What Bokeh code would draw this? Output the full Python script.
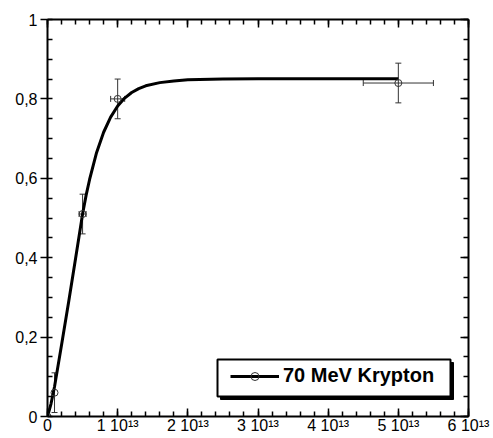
import numpy as np
from bokeh.plotting import figure
from bokeh.models import (Range1d, FixedTicker, LinearAxis, ColumnDataSource, Whisker,
                          TeeHead, Legend, LegendItem, BoxAnnotation)
from bokeh.embed import file_html
from bokeh.resources import INLINE

# ---- data ----
fluence = [0.0, 0.1e13, 0.5e13, 1.0e13, 5.0e13]
fraction = [0.0, 0.06, 0.51, 0.80, 0.84]
fraction_err = [0.0, 0.05, 0.05, 0.05, 0.05]
fluence_err = [0.0, 0.0, 0.05e13, 0.1e13, 0.5e13]

fit_fluence = [0.0, 0.05e13, 0.1e13, 0.2e13, 0.3e13, 0.4e13, 0.45e13, 0.5e13, 0.55e13,
               0.6e13, 0.7e13, 0.8e13, 0.9e13, 1.0e13, 1.1e13, 1.2e13, 1.3e13, 1.4e13,
               1.6e13, 1.8e13, 2.0e13, 2.5e13, 3.0e13, 4.0e13, 5.0e13]
fit_fraction = [0.0, 0.032, 0.075, 0.18, 0.287, 0.398, 0.454, 0.51, 0.557,
                0.597, 0.665, 0.716, 0.754, 0.782, 0.802, 0.816, 0.826, 0.833,
                0.841, 0.845, 0.848, 0.850, 0.851, 0.851, 0.851]

series_label = "70 MeV Krypton"

x_ticks = [0.0, 1e13, 2e13, 3e13, 4e13, 5e13, 6e13]
x_tick_labels = ["0", "1 10\u00b9\u00b3", "2 10\u00b9\u00b3", "3 10\u00b9\u00b3",
                 "4 10\u00b9\u00b3", "5 10\u00b9\u00b3", "6 10\u00b9\u00b3"]
y_ticks = [0.0, 0.2, 0.4, 0.6, 0.8, 1.0]
y_tick_labels = ["0", "0,2", "0,4", "0,6", "0,8", "1"]

FONT = "Liberation Sans"

p = figure(width=493, height=438, output_backend="svg", toolbar_location=None,
           x_range=Range1d(0, 6e13), y_range=Range1d(0, 1),
           min_border_left=47, min_border_right=25, min_border_top=19, min_border_bottom=22)
p.outline_line_color = None
p.xgrid.visible = False
p.ygrid.visible = False
p.background_fill_color = "white"
p.border_fill_color = "white"

x_minor = list(np.arange(0, 6.0001e13, 0.2e13))
y_minor = list(np.arange(0, 1.0001, 0.05))


def style_axis(ax, ticks, minor, major_in, major_out, minor_in, minor_out):
    ax.ticker = FixedTicker(ticks=ticks, minor_ticks=minor)
    ax.axis_line_width = 2
    ax.axis_line_color = "black"
    ax.major_tick_line_width = 1.5
    ax.minor_tick_line_width = 1.5
    ax.major_tick_line_color = "black"
    ax.minor_tick_line_color = "black"
    ax.major_tick_in = major_in
    ax.major_tick_out = major_out
    ax.minor_tick_in = minor_in
    ax.minor_tick_out = minor_out


# bottom axis
xa = p.xaxis[0]
style_axis(xa, x_ticks, x_minor, 8, 0, 5, 0)
xa.major_label_overrides = dict(zip(x_ticks, x_tick_labels))
xa.major_label_text_font = FONT
xa.major_label_text_font_size = "16px"
xa.major_label_text_color = "black"
xa.major_label_standoff = 0

# left axis
ya = p.yaxis[0]
style_axis(ya, y_ticks, y_minor, 0, 7, 5, 0)
ya.major_label_overrides = dict(zip(y_ticks, y_tick_labels))
ya.major_label_text_font = FONT
ya.major_label_text_font_size = "16px"
ya.major_label_text_color = "black"
ya.major_label_standoff = 3

# top and right axes: ticks only
top = LinearAxis()
style_axis(top, x_ticks, x_minor, 8, 0, 5, 0)
top.major_label_overrides = {t: "" for t in x_ticks}
top.major_label_text_font_size = "1px"
top.major_label_standoff = 0
p.add_layout(top, "above")

right = LinearAxis()
style_axis(right, y_ticks, y_minor, 8, 0, 5, 0)
right.major_label_overrides = {t: "" for t in y_ticks}
right.major_label_text_font_size = "1px"
right.major_label_standoff = 0
p.add_layout(right, "right")

# ---- error bars ----
vy = [i for i in range(len(fluence)) if fraction_err[i] > 0]
vsrc = ColumnDataSource(dict(
    x=[fluence[i] for i in vy],
    lo=[fraction[i] - fraction_err[i] for i in vy],
    hi=[fraction[i] + fraction_err[i] for i in vy]))
p.add_layout(Whisker(source=vsrc, base="x", lower="lo", upper="hi", dimension="height",
                     line_color="#333333", line_width=1,
                     lower_head=TeeHead(size=6, line_color="#333333", line_width=1),
                     upper_head=TeeHead(size=6, line_color="#333333", line_width=1)))
hx = [i for i in range(len(fluence)) if fluence_err[i] > 0]
hsrc = ColumnDataSource(dict(
    y=[fraction[i] for i in hx],
    lo=[fluence[i] - fluence_err[i] for i in hx],
    hi=[fluence[i] + fluence_err[i] for i in hx]))
p.add_layout(Whisker(source=hsrc, base="y", lower="lo", upper="hi", dimension="width",
                     line_color="#333333", line_width=1,
                     lower_head=TeeHead(size=6, line_color="#333333", line_width=1),
                     upper_head=TeeHead(size=6, line_color="#333333", line_width=1)))

# ---- fit curve and points ----
fit_r = p.line(fit_fluence, fit_fraction, line_color="black", line_width=3)
pts_r = p.scatter(fluence, fraction, marker="circle", size=7, fill_color=None,
                  line_color="#333333", line_width=1)

# ---- legend box with shadow ----
p.add_layout(BoxAnnotation(left=220, right=453, top=362, bottom=399,
                           left_units="canvas", right_units="canvas",
                           top_units="canvas", bottom_units="canvas",
                           fill_color="black", fill_alpha=1, line_color="black", line_alpha=1))
p.add_layout(BoxAnnotation(left=217, right=450, top=359, bottom=396,
                           left_units="canvas", right_units="canvas",
                           top_units="canvas", bottom_units="canvas",
                           fill_color="white", fill_alpha=1, line_color="black",
                           line_alpha=1, line_width=2))

legend = Legend(items=[LegendItem(label=series_label, renderers=[fit_r, pts_r])],
                location=(183, 29), orientation="vertical",
                border_line_color=None, background_fill_alpha=0,
                label_text_font=FONT, label_text_font_style="bold",
                label_text_font_size="20px", label_text_color="black",
                glyph_width=49, glyph_height=20, label_standoff=4,
                padding=7, margin=0, spacing=0)
p.add_layout(legend)

open("out.html", "w").write(file_html(p, INLINE))
